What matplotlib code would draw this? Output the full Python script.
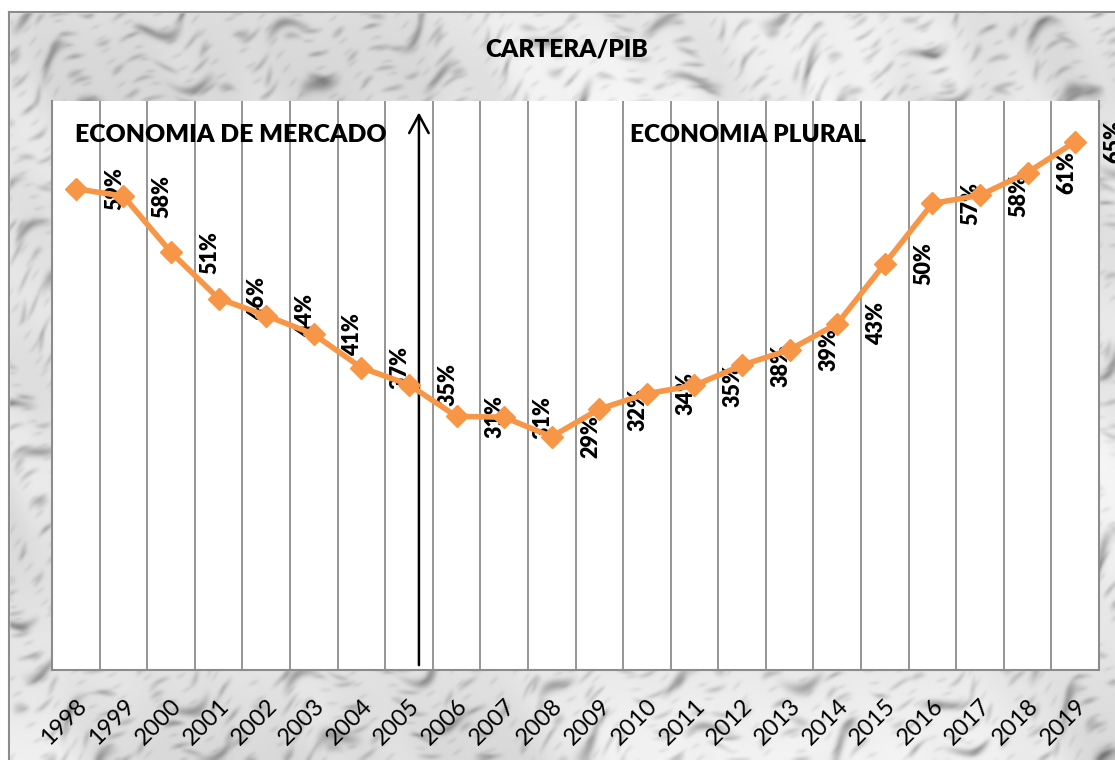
import numpy as np
import matplotlib.pyplot as plt
import matplotlib.transforms as mtransforms
from matplotlib.lines import Line2D

plt.rcParams['font.family'] = ['Lato', 'DejaVu Sans']
HEAVY = 'heavy'

# Cartera / PIB (fracción)
years = [str(y) for y in range(1998, 2020)]
ratio = [0.592, 0.583, 0.514, 0.457, 0.436, 0.413, 0.372, 0.351, 0.312, 0.311, 0.287,
         0.321, 0.340, 0.350, 0.375, 0.394, 0.426, 0.500, 0.574, 0.584, 0.612, 0.650]
cambio_modelo = 7.21   # posición de la flecha (entre 2005 y 2006)

W, H = 1115, 760
fig = plt.figure(figsize=(W / 100, H / 100), dpi=100)

# fondo tipo mármol: vetas diagonales cortas
bg = fig.add_axes([0, 0, 1, 1], zorder=0)
yy, xx = np.mgrid[0:H:380j, 0:W:558j]
across = 0.6 * xx + yy
along = xx - 0.6 * yy
turb = (0.9 * np.sin(0.012 * along + 0.004 * across + 0.3)
        + 0.6 * np.sin(0.031 * along - 0.011 * across + 1.9)
        + 0.35 * np.sin(0.07 * along + 0.02 * across + 4.0))
gray = np.full_like(xx, 0.90)
for k, (f, g, ph, depth) in enumerate([(0.045, 0.05, 0.7, 0.28), (0.11, 0.09, 2.3, 0.18),
                                       (0.07, 0.13, 4.1, 0.16), (0.19, 0.17, 5.3, 0.11)]):
    frag = np.clip(np.sin(g * along + 0.02 * across * (k % 2) + ph), 0, 1) ** 1.5
    vein = np.exp(-np.sin(f * across + (1.2 + 0.4 * k) * turb + ph) ** 2 / 0.07)
    gray -= depth * vein * frag
gray -= 0.06 * np.sin(0.006 * xx + 0.9 * turb) * np.sin(0.009 * yy + 0.5)
bg.imshow(np.clip(gray, 0, 1), cmap='gray', vmin=0, vmax=1, extent=[0, W, H, 0],
          aspect='auto', interpolation='bicubic')
bg.fill_between([0, W], 0, 12, color='white', zorder=2)
bg.fill_betweenx([0, H], 0, 9, color='white', zorder=2)
bg.add_line(Line2D([9, W], [12, 12], color='#8c8c8c', lw=1.5, zorder=3))
bg.add_line(Line2D([9, 9], [12, H], color='#8c8c8c', lw=1.5, zorder=3))
bg.set_xlim(0, W)
bg.set_ylim(H, 0)
bg.axis('off')

ax = fig.add_axes([52 / W, 1 - 670 / H, (1099 - 52) / W, (670 - 101) / H], zorder=1)
ax.set_facecolor('white')
x = np.arange(len(years))
ax.plot(x, ratio, color='#F79646', lw=4, marker='D', ms=11, zorder=4)

for i, v in enumerate(ratio):
    ax.annotate(f"{v * 100:.0f}%", (i, v), xytext=(28, 0), textcoords='offset points',
                rotation=90, ha='center', va='center', fontsize=15.5, fontweight=HEAVY,
                zorder=3)

ax.annotate('', xy=(cambio_modelo, 0.686), xytext=(cambio_modelo, 0.006),
            arrowprops=dict(arrowstyle='->, head_length=1.3, head_width=0.7',
                            color='black', lw=1.8, shrinkA=0, shrinkB=0))
ax.text(-0.02, 0.658, 'ECONOMIA DE MERCADO', ha='left', va='center',
        fontsize=17.9, fontweight=HEAVY)
ax.text(14.12, 0.658, 'ECONOMIA PLURAL', ha='center', va='center',
        fontsize=17.6, fontweight=HEAVY)
fig.text(567 / W, 1 - 50 / H, 'CARTERA/PIB', ha='center', va='center',
         fontsize=17.6, fontweight=HEAVY)

ax.set_xlim(-0.5, len(years) - 0.5)
ax.set_ylim(0, 0.70)
ax.set_xticks(x)
ax.set_xticklabels(years, rotation=45, ha='right', va='top', rotation_mode='anchor',
                   fontsize=17)
shift = mtransforms.ScaledTranslation(-9 / 72, 0, fig.dpi_scale_trans)
for lab in ax.get_xticklabels():
    lab.set_transform(lab.get_transform() + shift)
ax.tick_params(axis='x', length=0, pad=18)
ax.set_xticks(np.arange(0.5, len(years) - 1, 1), minor=True)
ax.tick_params(axis='x', which='minor', length=0)
ax.grid(which='minor', axis='x', color='#8c8c8c', lw=1.3)
ax.set_yticks([])
for side in ('left', 'bottom', 'right'):
    ax.spines[side].set_color('#8c8c8c')
    ax.spines[side].set_linewidth(1.5)
ax.spines['top'].set_visible(False)

fig.savefig('out.png', dpi=100)
